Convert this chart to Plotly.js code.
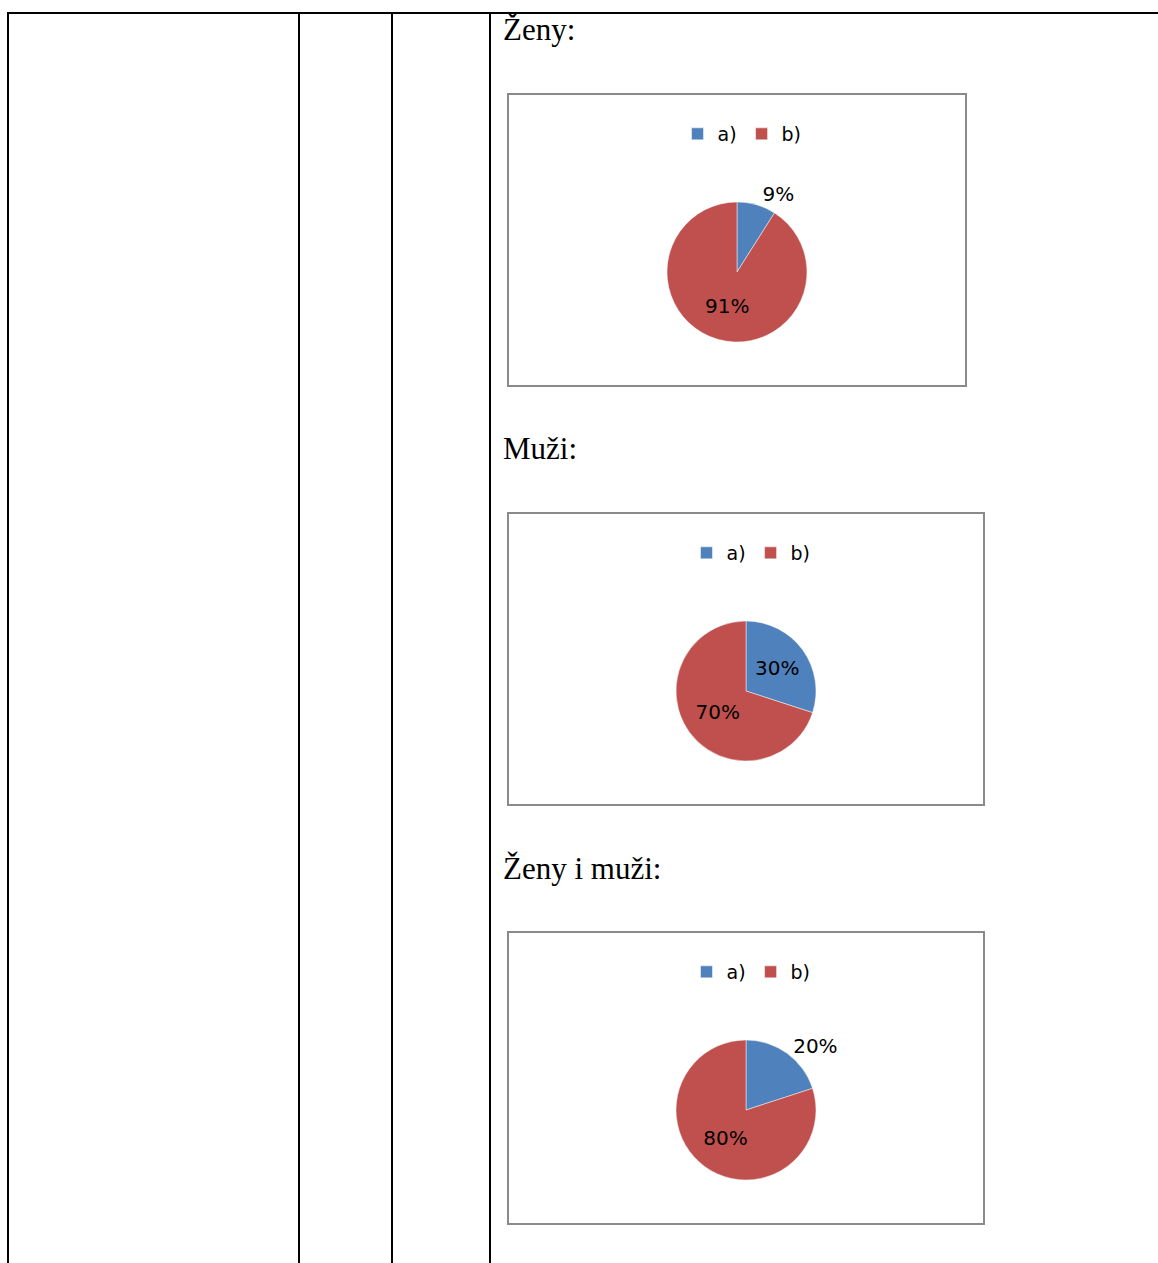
<!DOCTYPE html>
<html>
<head>
<meta charset="utf-8">
<script src="https://cdn.plot.ly/plotly-3.0.1.min.js"></script>
<style>
html,body{margin:0;padding:0;background:#fff;}
#page{position:relative;width:1158px;height:1263px;overflow:hidden;}
#base{position:absolute;left:0;top:0;width:1158px;height:1263px;}
.pie{position:absolute;}
</style>
</head>
<body>
<div id="page">
  <div id="base"></div>
  <div id="pie0" class="pie"></div>
  <div id="pie1" class="pie"></div>
  <div id="pie2" class="pie"></div>
</div>
<script>
const categories = ['a)', 'b)'];
const zenyValues = [9, 91];
const muziValues = [30, 70];
const obaValues = [20, 80];
const headings = ['Ženy:', 'Muži:', 'Ženy i muži:'];
const zenyTextPos = ['outside', 'inside'];
const muziTextPos = ['inside', 'inside'];
const obaTextPos = ['outside', 'inside'];
const sliceColors = ['#4F81BD', '#C0504D'];

const W = 1158, H = 1263;
const labelFont = {family: 'DejaVu Sans, sans-serif', size: 20, color: '#000'};
const legendFont = {family: 'DejaVu Sans, sans-serif', size: 19, color: '#000'};

// page-pixel geometry of each chart panel
const panels = [
  {box: [508, 94, 966, 386], c: [737, 272], leg: [742, 134], head: 30, vals: zenyValues, pos: zenyTextPos},
  {box: [508, 513, 984, 805], c: [746, 691], leg: [751, 553], head: 449, vals: muziValues, pos: muziTextPos},
  {box: [508, 932, 984, 1224], c: [746, 1110], leg: [751, 972], head: 868, vals: obaValues, pos: obaTextPos}
];
const R = 70;
const PAD = 4;

// ---- base page: table grid and headings ----
const fx = x => x / W;
const fy = y => 1 - y / H;
const baseShapes = [];
[8, 299, 392, 490].forEach(x => {
  baseShapes.push({type: 'line', xref: 'paper', yref: 'paper', x0: fx(x), x1: fx(x), y0: fy(12), y1: 0,
    line: {color: '#000', width: 2}});
});
baseShapes.push({type: 'line', xref: 'paper', yref: 'paper', x0: fx(7), x1: 1, y0: fy(13), y1: fy(13),
  line: {color: '#000', width: 2}});
const baseAnn = panels.map((p, i) => ({
  xref: 'paper', yref: 'paper',
  x: fx(501), xanchor: 'left',
  y: fy(p.head), yanchor: 'middle',
  text: headings[i], showarrow: false,
  font: {family: 'Liberation Serif, Times New Roman, serif', size: 31, color: '#000'}
}));
Plotly.newPlot('base', [], {
  width: W, height: H, margin: {l: 0, r: 0, t: 0, b: 0},
  paper_bgcolor: 'rgba(0,0,0,0)', plot_bgcolor: 'rgba(0,0,0,0)',
  xaxis: {visible: false}, yaxis: {visible: false},
  shapes: baseShapes, annotations: baseAnn
}, {displayModeBar: false, staticPlot: true});

// ---- pie charts ----
panels.forEach((p, i) => {
  const left = p.box[0] - PAD, top = p.box[1] - PAD;
  const w = p.box[2] - p.box[0] + 2 * PAD, h = p.box[3] - p.box[1] + 2 * PAD;
  const div = document.getElementById('pie' + i);
  div.style.left = left + 'px';
  div.style.top = top + 'px';
  div.style.width = w + 'px';
  div.style.height = h + 'px';
  const gx = x => (x - left) / w;
  const gy = y => 1 - (y - top) / h;
  const trace = {
    type: 'pie',
    labels: categories,
    values: p.vals,
    sort: false,
    direction: 'clockwise',
    rotation: 0,
    texttemplate: '%{percent:.0%}',
    textposition: p.pos,
    insidetextorientation: 'horizontal',
    textfont: labelFont,
    insidetextfont: labelFont,
    outsidetextfont: labelFont,
    marker: {colors: sliceColors, line: {color: 'rgba(255,255,255,0.6)', width: 0.8}},
    domain: {x: [gx(p.c[0] - R), gx(p.c[0] + R)], y: [gy(p.c[1] + R), gy(p.c[1] - R)]},
    hoverinfo: 'label+percent',
    showlegend: true
  };
  const layout = {
    width: w, height: h,
    margin: {l: 0, r: 0, t: 0, b: 0},
    paper_bgcolor: 'rgba(0,0,0,0)',
    showlegend: true,
    legend: {
      orientation: 'h',
      x: gx(p.leg[0]), xanchor: 'center',
      y: gy(p.leg[1]), yanchor: 'middle',
      font: legendFont,
      bgcolor: 'rgba(0,0,0,0)',
      traceorder: 'normal',
      itemclick: false, itemdoubleclick: false
    },
    shapes: [{
      type: 'rect', xref: 'paper', yref: 'paper',
      x0: gx(p.box[0]), x1: gx(p.box[2]), y0: gy(p.box[3]), y1: gy(p.box[1]),
      line: {color: '#8a8a8a', width: 2}, fillcolor: 'rgba(0,0,0,0)', layer: 'below'
    }]
  };
  Plotly.newPlot(div, [trace], layout, {displayModeBar: false, staticPlot: true});
});
</script>
</body>
</html>
